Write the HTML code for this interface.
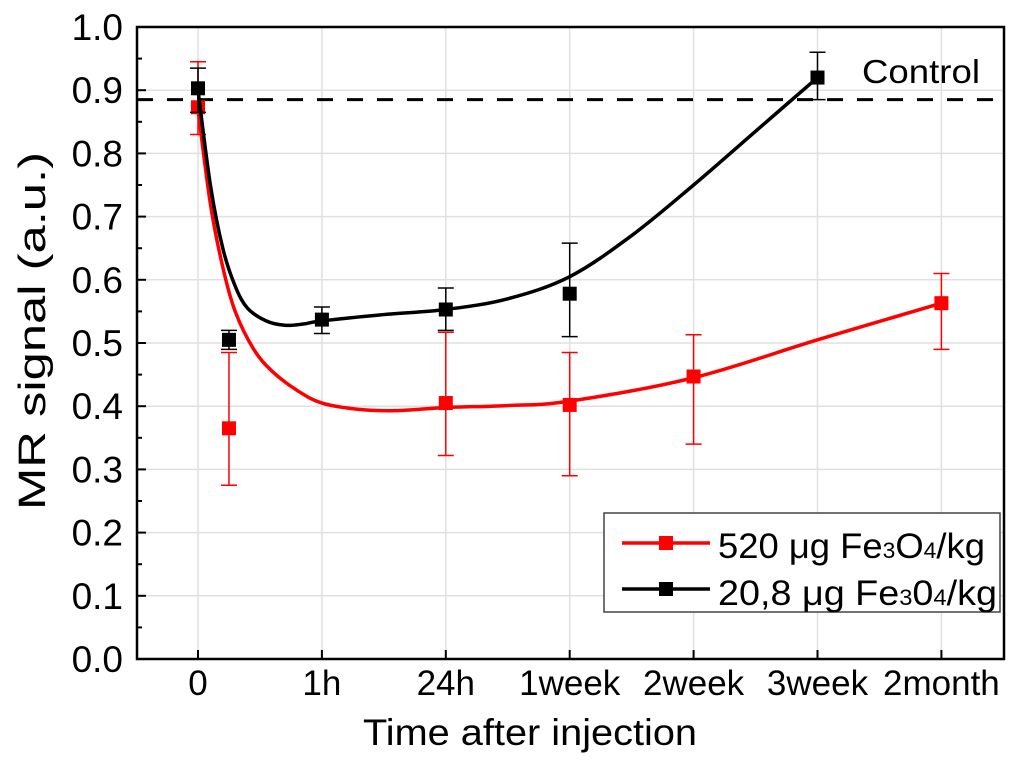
<!DOCTYPE html>
<html><head><meta charset="utf-8"><style>
body{margin:0;background:#fff;}
svg text{font-family:"Liberation Sans",Arial,sans-serif;}
</style></head><body>
<svg id="chart" width="1024" height="767" viewBox="0 0 1024 767"></svg>
<script>
const categories=["0","1h","24h","1week","2week","3week","2month"];
const yTicks=[0.0,0.1,0.2,0.3,0.4,0.5,0.6,0.7,0.8,0.9,1.0];
const redX=[0,0.25,2,3,4,6];
const redY=[0.873,0.365,0.405,0.402,0.447,0.563];
const redLo=[0.83,0.275,0.322,0.29,0.34,0.49];
const redHi=[0.945,0.485,0.517,0.485,0.513,0.61];
const blackX=[0,0.25,1,2,3,5];
const blackY=[0.903,0.505,0.537,0.553,0.578,0.920];
const blackLo=[0.865,0.49,0.515,0.52,0.51,0.885];
const blackHi=[0.935,0.52,0.557,0.587,0.658,0.96];
const redFitX=[0,0.1,0.2,0.3,0.45,0.6,0.8,1.0,1.3,1.6,2,2.5,3,4,5,6];
const redFitY=[0.87,0.72,0.62,0.55,0.49,0.455,0.425,0.405,0.395,0.393,0.398,0.401,0.408,0.445,0.505,0.563];
const blackFitX=[0,0.1,0.2,0.3,0.4,0.55,0.7,0.85,1,1.5,2,2.5,3,3.5,4,4.5,5];
const blackFitY=[0.90,0.75,0.65,0.59,0.555,0.535,0.528,0.53,0.535,0.545,0.553,0.57,0.605,0.67,0.75,0.835,0.92];
const controlY=0.885;

const L=137,R=1004,T=27,B=659;
const sx=v=>198+v*123.9;
const sy=v=>B-v*(B-T);
const svg=document.getElementById('chart');
const NS="http://www.w3.org/2000/svg";
function mk(tag,attrs,parent){const e=document.createElementNS(NS,tag);for(const k in attrs)e.setAttribute(k,attrs[k]);(parent||svg).appendChild(e);return e;}
function smooth(pts){
  let d=`M${pts[0][0]},${pts[0][1]}`;
  for(let i=0;i<pts.length-1;i++){
    const p0=pts[i-1]||pts[i],p1=pts[i],p2=pts[i+1],p3=pts[i+2]||p2;
    const c1=[p1[0]+(p2[0]-p0[0])/6,p1[1]+(p2[1]-p0[1])/6];
    const c2=[p2[0]-(p3[0]-p1[0])/6,p2[1]-(p3[1]-p1[1])/6];
    d+=`C${c1[0]},${c1[1]} ${c2[0]},${c2[1]} ${p2[0]},${p2[1]}`;
  }
  return d;
}

yTicks.forEach(v=>{const g=mk('line',{x1:L,x2:R,y1:sy(v),y2:sy(v),stroke:'#e0e0e0','stroke-width':1.5});

});
categories.forEach((c,i)=>{const g=mk('line',{x1:sx(i),x2:sx(i),y1:T,y2:B,stroke:'#e0e0e0','stroke-width':1.5});

});

const cl=mk('line',{x1:L,x2:R,y1:sy(controlY),y2:sy(controlY),stroke:'#000','stroke-width':3,'stroke-dasharray':'16,14'});


const ct=mk('text',{x:862,y:83,'font-size':33,textLength:118,lengthAdjust:'spacingAndGlyphs'});ct.textContent='Control';



function series(xs,ys,lo,hi,fx,fy,color,name){
  const g=mk('g',{});
  
  
  const p=mk('path',{d:smooth(fx.map((x,i)=>[sx(x),sy(fy[i])])),fill:'none',stroke:color,'stroke-width':3.5,'stroke-linejoin':'round'},g);
  
  
  xs.forEach((x,i)=>{
    const X=sx(x);
    const e=mk('path',{d:`M${X},${sy(lo[i])}V${sy(hi[i])}M${X-8},${sy(lo[i])}H${X+8}M${X-8},${sy(hi[i])}H${X+8}`,stroke:color,'stroke-width':1.5,fill:'none'},g);
    
    
    const m=mk('rect',{x:X-7,y:sy(ys[i])-7,width:14,height:14,fill:color},g);
    
    
  });
}
series(redX,redY,redLo,redHi,redFitX,redFitY,'#ff0000','red');
series(blackX,blackY,blackLo,blackHi,blackFitX,blackFitY,'#000000','black');

const fr=mk('rect',{x:L,y:T,width:R-L,height:B-T,fill:'none',stroke:'#000','stroke-width':2.5});



yTicks.forEach(v=>{
  const t=mk('line',{x1:L,x2:L+9,y1:sy(v),y2:sy(v),stroke:'#000','stroke-width':2});
  
  
  if(v<1){const m=mk('line',{x1:L,x2:L+5,y1:sy(v+0.05),y2:sy(v+0.05),stroke:'#000','stroke-width':2});
  
  }
  const l=mk('text',{x:L-14,y:sy(v)+13,'font-size':37,'text-anchor':'end'});l.textContent=v.toFixed(1);
  
  
});
categories.forEach((c,i)=>{
  const t=mk('line',{x1:sx(i),x2:sx(i),y1:B,y2:B-9,stroke:'#000','stroke-width':2});
  
  
  const l=mk('text',{x:sx(i),y:B+36,'font-size':35,'text-anchor':'middle'});l.textContent=c;
  
  
});
const xt=mk('text',{x:530,y:745,'font-size':37,'text-anchor':'middle',textLength:334,lengthAdjust:'spacingAndGlyphs'});xt.textContent='Time after injection';


const yt=mk('text',{x:0,y:0,'font-size':38,'text-anchor':'middle',textLength:358,lengthAdjust:'spacingAndGlyphs',transform:'translate(45,331) rotate(-90)'});yt.textContent='MR signal (a.u.)';


</script>
<svg width="1024" height="767" style="position:absolute;left:0;top:0">
<g>
<rect x="604" y="513" width="396" height="99" fill="#fff" stroke="#444" stroke-width="1.5"/>
<g>
<line x1="622" x2="710" y1="543" y2="543" stroke="#ff0000" stroke-width="3.5"/>
<rect x="659" y="536" width="14" height="14" fill="#ff0000"/>
<text x="718" y="558" font-size="35" textLength="267" lengthAdjust="spacingAndGlyphs" font-family="Liberation Sans, sans-serif">520 μg Fe<tspan font-size="22">3</tspan>O<tspan font-size="22">4</tspan>/kg</text>
</g>
<g>
<line x1="622" x2="710" y1="589" y2="589" stroke="#000" stroke-width="3.5"/>
<rect x="659" y="582" width="14" height="14" fill="#000"/>
<text x="718" y="605" font-size="35" textLength="279" lengthAdjust="spacingAndGlyphs" font-family="Liberation Sans, sans-serif">20,8 μg Fe<tspan font-size="22">3</tspan>0<tspan font-size="22">4</tspan>/kg</text>
</g>
</g>
</svg>
</body></html>
